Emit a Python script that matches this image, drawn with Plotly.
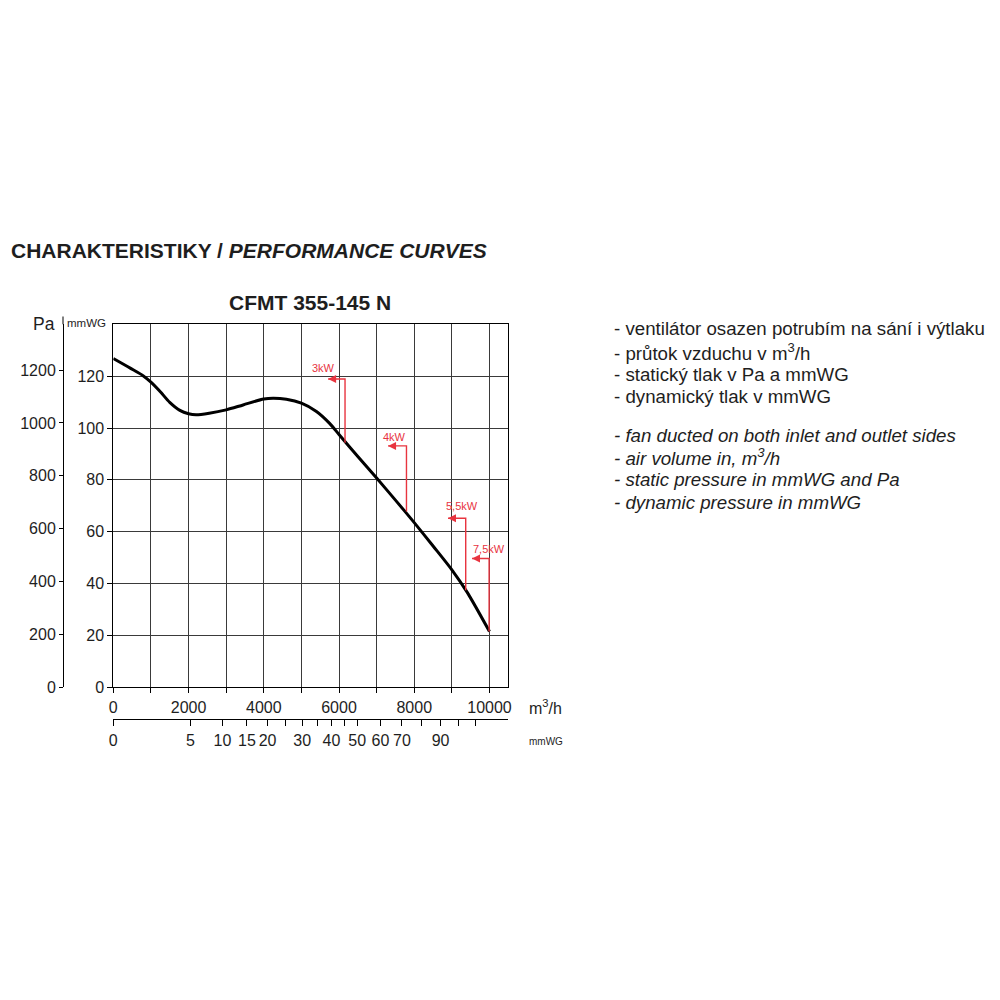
import numpy as np
import plotly.graph_objects as go

# ---------------- data ----------------
flow = [0, 450, 800, 1000, 1250, 1500, 1770, 2000, 2200, 2550, 3000, 3450, 4000, 4250,
        4600, 5000, 5400, 5750, 6000, 6500, 7000, 7500, 8000, 8500, 9000, 9400, 10000]
pressure_mmwg = [126.8, 123.1, 120.1, 117.7, 114.0, 109.9, 106.8, 105.5, 105.1, 105.7,
                 107.0, 108.9, 111.2, 111.5, 111.1, 109.6, 106.4, 101.8, 97.5, 89.0,
                 80.7, 72.2, 63.5, 54.5, 45.3, 36.8, 21.5]

motor_labels = ["3kW", "4kW", "5,5kW", "7,5kW"]
motor_flow = [6160, 7793, 9368, 9990]
motor_bottom = [94.3, 67.8, 37.4, 21.5]
motor_top = [118.9, 93.1, 65.2, 49.7]
motor_arrow_end = [5711, 7304, 8898, 9535]
motor_label_x = [5578, 7474, 9262, 9992]
motor_label_y = [123.0, 96.6, 69.9, 53.2]

x_major = list(range(0, 10001, 2000))
x_minor = list(range(1000, 10001, 2000))
mmwg_ticks = list(range(0, 121, 20))
pa_ticks = list(range(0, 1201, 200))
dyn_labeled = [0, 5, 10, 15, 20, 30, 40, 50, 60, 70, 90]
dyn_unlabeled = [25, 35, 45, 80, 100, 110]
dyn_scale = 917.0          # flow (m3/h) = dyn_scale * sqrt(dynamic pressure mmWG)
PA_PER_MMWG = 9.81

notes_cz = ["- ventilátor osazen potrubím na sání i výtlaku",
            "- průtok vzduchu v m<sup>3</sup>/h",
            "- statický tlak v Pa a mmWG",
            "- dynamický tlak v mmWG"]
notes_en = ["- fan ducted on both inlet and outlet sides",
            "- air volume in, m<sup>3</sup>/h",
            "- static pressure in mmWG and Pa",
            "- dynamic pressure in mmWG"]

# ---------------- figure ----------------
FONT = "Liberation Sans, Arial, sans-serif"
RED = "#e8343f"
TXT = "#1e1e1e"
GRID = "#3a3a3a"

def px(v):   # horizontal pixel -> paper
    return v / 1000.0

def py(v):   # vertical pixel -> paper
    return 1 - v / 1000.0

fig = go.Figure()

fig.add_trace(go.Scatter(x=flow, y=pressure_mmwg, mode="lines",
                         line=dict(color="black", width=3, shape="spline", smoothing=0.8),
                         hoverinfo="skip", showlegend=False))

for i, lab in enumerate(motor_labels):
    fig.add_trace(go.Scatter(x=[motor_flow[i], motor_flow[i], motor_arrow_end[i]],
                             y=[motor_bottom[i], motor_top[i], motor_top[i]],
                             mode="lines", line=dict(color=RED, width=1.4),
                             hoverinfo="skip", showlegend=False))
    fig.add_annotation(x=motor_label_x[i], y=motor_label_y[i], xref="x", yref="y",
                       text=lab, showarrow=False, xanchor="center", yanchor="middle",
                       font=dict(family=FONT, size=11, color=RED))

# arrow heads at the ends of the power markers
fig.add_trace(go.Scatter(x=motor_arrow_end, y=motor_top, mode="markers",
                         marker=dict(symbol="arrow-left", size=8, color=RED,
                                     line=dict(width=0)),
                         hoverinfo="skip", showlegend=False))

# invisible traces to activate the secondary axes
fig.add_trace(go.Scatter(x=[0], y=[0], yaxis="y2", mode="markers",
                         marker=dict(opacity=0), hoverinfo="skip", showlegend=False))
fig.add_trace(go.Scatter(x=[0], y=[0], xaxis="x2", mode="markers",
                         marker=dict(opacity=0), hoverinfo="skip", showlegend=False))

x_dom = [px(113.3), px(508.3)]
y_dom = [py(687.3), py(324.3)]

fig.update_layout(
    width=1000, height=1000,
    margin=dict(l=0, r=0, t=0, b=0, autoexpand=False),
    paper_bgcolor="white", plot_bgcolor="white",
    font=dict(family=FONT, color=TXT),
    showlegend=False,
    xaxis=dict(domain=x_dom, range=[0, 10500], tickmode="array", tickvals=x_major,
               ticktext=[str(v) for v in x_major],
               showgrid=True, gridcolor=GRID, gridwidth=1, zeroline=False,
               showline=True, linecolor="black", linewidth=1, mirror=True,
               ticks="outside", ticklen=5, tickcolor="black",
               minor=dict(tickmode="array", tickvals=x_minor, ticks="outside", ticklen=5,
                          tickcolor="black", showgrid=True, gridcolor=GRID, gridwidth=1),
               tickfont=dict(size=16, color=TXT, family=FONT)),
    yaxis=dict(domain=y_dom, range=[0, 140], tickmode="array", tickvals=mmwg_ticks,
               ticktext=[str(v) for v in mmwg_ticks],
               showgrid=True, gridcolor=GRID, gridwidth=1, zeroline=False,
               showline=True, linecolor="black", linewidth=1, mirror=True,
               ticks="outside", ticklen=5, tickcolor="black",
               tickfont=dict(size=16, color=TXT, family=FONT)),
    yaxis2=dict(overlaying="y", anchor="free", position=px(63), side="left",
                range=[0, 140 * PA_PER_MMWG], tickmode="array", tickvals=pa_ticks,
                ticktext=[str(v) for v in pa_ticks],
                showgrid=False, zeroline=False, showline=True, linecolor="black",
                linewidth=1, ticks="outside", ticklen=4, tickcolor="black",
                tickfont=dict(size=16, color=TXT, family=FONT)),
    xaxis2=dict(overlaying="x", anchor="free", position=py(719.3), side="bottom",
                range=[0, 10500], tickmode="array",
                tickvals=[dyn_scale * np.sqrt(q) for q in dyn_labeled],
                ticktext=[str(q) for q in dyn_labeled],
                showgrid=False, zeroline=False, showline=True, linecolor="black",
                linewidth=1, ticks="outside", ticklen=6, tickcolor="black",
                minor=dict(tickmode="array",
                           tickvals=[dyn_scale * np.sqrt(q) for q in dyn_unlabeled],
                           ticks="outside", ticklen=6, tickcolor="black", showgrid=False),
                tickfont=dict(size=16, color=TXT, family=FONT)),
)

# Pa axis line extends a bit above the plot
fig.add_shape(type="line", xref="paper", yref="paper", x0=px(63), x1=px(63),
              y0=py(324.3), y1=py(316.5), line=dict(color="black", width=1))

def text(x, y, s, size, anchor="left", color=TXT, bold=False):
    fig.add_annotation(x=px(x), y=py(y), xref="paper", yref="paper", text=s,
                       showarrow=False, xanchor=anchor, yanchor="middle",
                       font=dict(family=FONT, size=size, color=color,
                                 weight="bold" if bold else "normal"))

text(9, 250, "CHARAKTERISTIKY / <i>PERFORMANCE CURVES</i>", 21, bold=True)
text(310, 302, "CFMT 355-145 N", 21, anchor="center", bold=True)
text(31, 324, "Pa", 17.5)
text(65, 323, "mmWG", 11.5)
text(527, 707, "m<sup>3</sup>/h", 16)
text(527, 741, "mmWG", 10)

for i, s in enumerate(notes_cz):
    text(612, 329 + i * 22.6, s, 18.7)
for i, s in enumerate(notes_en):
    text(612, 435 + i * 22.4, "<i>" + s + "</i>", 18.7)

fig.write_html("out.html", config={"displayModeBar": False},
               post_script="document.body.style.margin='0';")
